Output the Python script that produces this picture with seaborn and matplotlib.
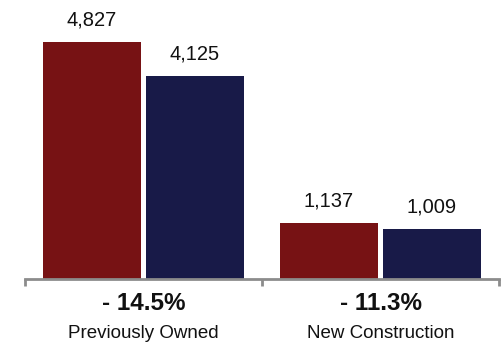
import matplotlib
matplotlib.use("Agg")
import matplotlib.pyplot as plt
import matplotlib.transforms as mtransforms
import seaborn as sns
import pandas as pd

categories = ["Previously Owned", "New Construction"]
periods = ["Prior", "Current"]
prior_values = [4827, 1137]
current_values = [4125, 1009]
change_labels = ["- 14.5%", "- 11.3%"]
colors = ["#771214", "#181a48"]

df = pd.DataFrame({
    "category": categories * 2,
    "period": [periods[0]] * 2 + [periods[1]] * 2,
    "value": prior_values + current_values,
})

sns.set_theme(style="white")
plt.rcParams["font.family"] = ["Liberation Sans", "DejaVu Sans"]

fig = plt.figure(figsize=(5.01, 3.46), dpi=100)
ax = fig.add_axes([25 / 501, 1 - 279 / 346, 474 / 501, 279 / 346])

sns.barplot(data=df, x="category", y="value", hue="period", order=categories,
            hue_order=periods, palette=colors, width=0.87, gap=0.055,
            legend=False, ax=ax, saturation=1, linewidth=0)

for cont in ax.containers:
    ax.bar_label(cont, labels=[f"{v:,.0f}" for v in cont.datavalues],
                 padding=9, fontsize=14.5, color="#111111")

ax.set_xlim(-0.5, 1.5)
ax.set_ylim(0, 5682)
ax.set_yticks([])
ax.set_xlabel("")
ax.set_ylabel("")
for s in ["top", "left", "right"]:
    ax.spines[s].set_visible(False)
ax.spines["bottom"].set_color("#8c8c8c")
ax.spines["bottom"].set_linewidth(2)

ax.set_xticks([0, 1])
ax.set_xticklabels([])
ax.tick_params(axis="x", which="major", length=0)
ax.set_xticks([-0.5, 0.5, 1.5], minor=True)
ax.tick_params(axis="x", which="minor", length=5, width=2, color="#8c8c8c",
               direction="out", bottom=True)

trans = mtransforms.blended_transform_factory(ax.transData, fig.transFigure)
for i, (cat, chg) in enumerate(zip(categories, change_labels)):
    ax.text(i, 1 - 303 / 346, chg, transform=trans, ha="center", va="center",
            fontsize=17.5, fontweight="bold", color="#111111")
    ax.text(i, 1 - 333 / 346, cat, transform=trans, ha="center", va="center",
            fontsize=13.5, color="#111111")

fig.savefig("out.png", dpi=100)
